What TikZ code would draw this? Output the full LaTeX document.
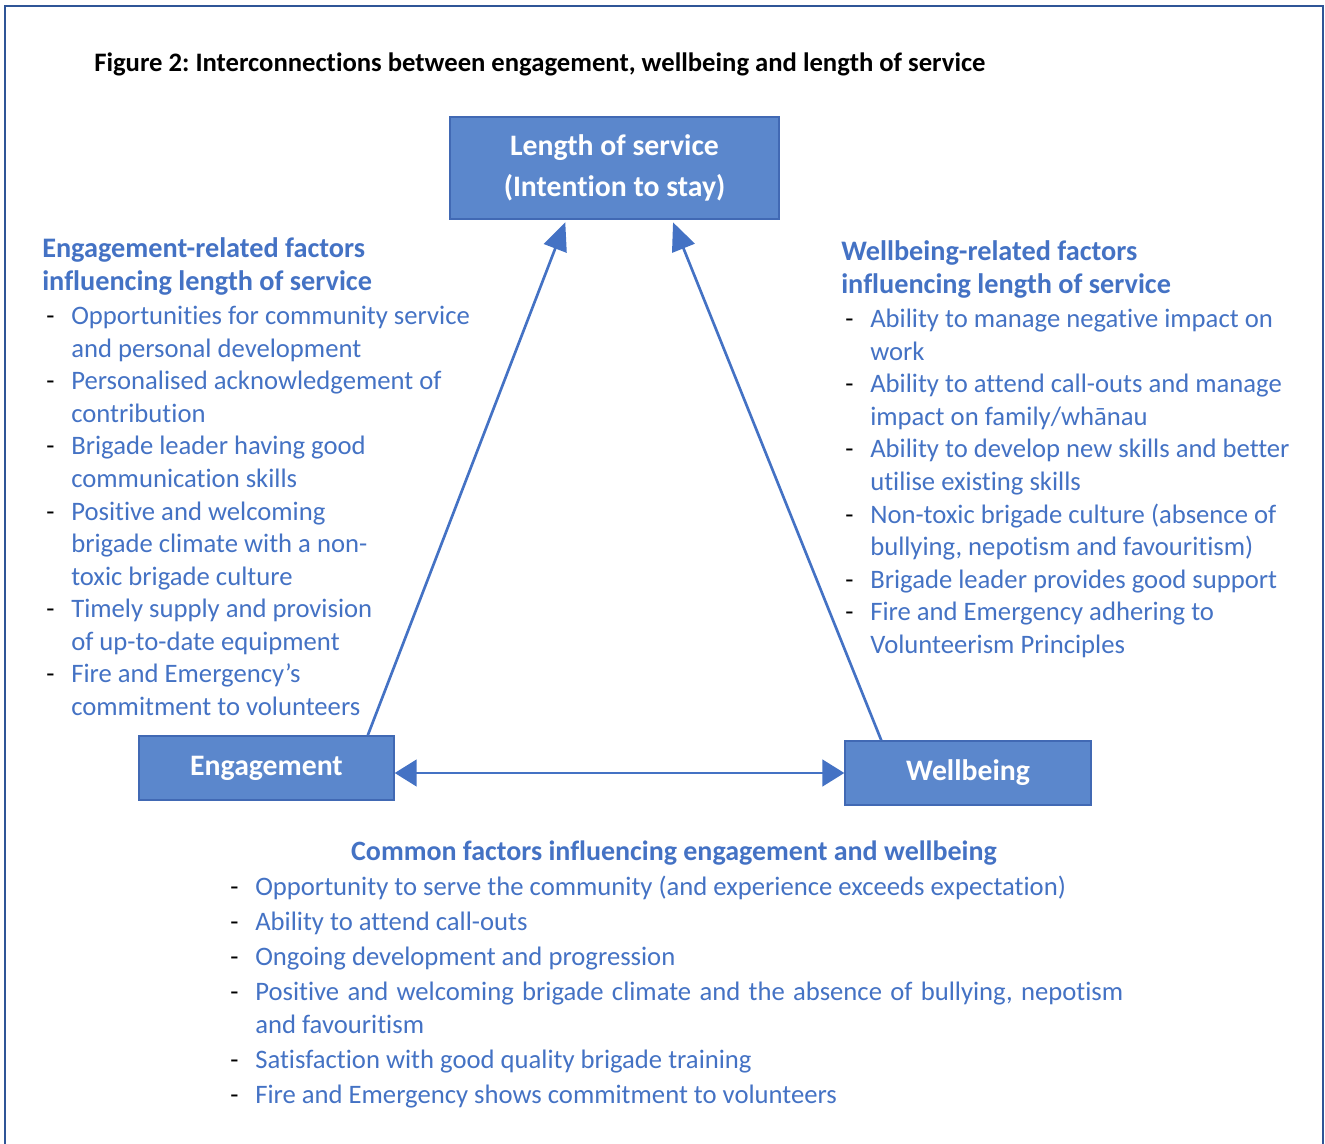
\documentclass[tikz,border=0pt]{standalone}
\usepackage{fontspec}
\setmainfont{Carlito}[Ligatures=NoCommon]
\usetikzlibrary{arrows.meta}
\definecolor{accent}{HTML}{4472C4}
\definecolor{boxfill}{HTML}{5B87CC}
\definecolor{boxline}{HTML}{4169B4}
\definecolor{framecol}{HTML}{2F5597}
% one pixel of the layout grid
\newlength{\pxu}\setlength{\pxu}{0.75pt}
% list entry: black dash, then the blue text
\newcommand{\itm}{\hspace*{4\pxu}\makebox[25\pxu][l]{\color{black}-}}
\newcommand{\cnt}{\hspace*{29\pxu}}
\newcommand{\hd}[1]{{\fontsize{21.2pt}{24.4pt}\selectfont\bfseries #1}}
\frenchspacing
\begin{document}
\begin{tikzpicture}[x=0.75pt,y=-0.75pt]
    \tikzset{box/.style={draw=boxline, fill=boxfill, line width=1pt, inner sep=0pt,
            text=white, align=center, font=\fontsize{22.3pt}{30.75pt}\selectfont\bfseries},
        factors/.style={anchor=north west, inner sep=0pt, align=left, text=accent,
            font=\fontsize{20pt}{24.4pt}\selectfont},
        link/.style={draw=accent, line width=2pt}}
    \useasboundingbox (0,0) rectangle (1325,1144);
    %Rahmen
    \draw[framecol, line width=2pt] (5,6) rectangle (1323,1170);
    \node[anchor=base west, inner sep=0pt, font=\fontsize{20pt}{22pt}\selectfont\bfseries]
        (title) at (94,72) {Figure 2: Interconnections between engagement, wellbeing and length of service};

    %Kästen
    \node[box, minimum width=246.8pt, minimum height=76.5pt] (los) at (614.5,168)
        {Length of service\\(Intention to stay)};
    \node[box, minimum width=191.3pt, minimum height=48pt] (eng) at (266.5,768) {Engagement};
    \node[box, minimum width=184.5pt, minimum height=48pt] (wb) at (968,773) {Wellbeing};

    %Pfeile
    \draw[link, -{Triangle[length=21pt,width=18pt]}] ([xshift=-20.2pt]eng.north east)
        -- ([xshift=87pt, yshift=-2pt]los.south west);
    \draw[link, -{Triangle[length=21pt,width=18pt]}] ([xshift=27.7pt]wb.north west)
        -- ([xshift=-80pt, yshift=-2pt]los.south east);
    \draw[link, {Triangle[length=16.5pt,width=20pt]}-{Triangle[length=16.5pt,width=20pt]}]
        (eng.east |- wb.west) -- (wb.west);

    %Faktoren links
    \node[factors] (engfac) at (42,237) {%
        \hd{Engagement-related factors}\\[1pt]
        \hd{influencing length of service}\\[1pt]
        \itm Opportunities for community service\\
        \cnt and personal development\\
        \itm Personalised acknowledgement of\\
        \cnt contribution\\
        \itm Brigade leader having good\\
        \cnt communication skills\\
        \itm Positive and welcoming\\
        \cnt brigade climate with a non-\\
        \cnt toxic brigade culture\\
        \itm Timely supply and provision\\
        \cnt of up-to-date equipment\\
        \itm Fire and Emergency’s\\
        \cnt commitment to volunteers};

    %Faktoren rechts
    \node[factors] (wbfac) at (841,240) {%
        \hd{Wellbeing-related factors}\\[1pt]
        \hd{influencing length of service}\\[1pt]
        \itm Ability to manage negative impact on\\
        \cnt work\\
        \itm Ability to attend call-outs and manage\\
        \cnt impact on family/whānau\\
        \itm Ability to develop new skills and better\\
        \cnt utilise existing skills\\
        \itm Non-toxic brigade culture (absence of\\
        \cnt bullying, nepotism and favouritism)\\
        \itm Brigade leader provides good support\\
        \itm Fire and Emergency adhering to\\
        \cnt Volunteerism Principles};

    %Gemeinsame Faktoren
    \node[anchor=base, inner sep=0pt, text=accent, font=\fontsize{21pt}{24pt}\selectfont\bfseries]
        (common) at (674,860) {Common factors influencing engagement and wellbeing};
    \node[factors, font=\fontsize{20pt}{26.25pt}\selectfont] (commonlist) at (226,876) {%
        \itm Opportunity to serve the community (and experience exceeds expectation)\\
        \itm Ability to attend call-outs\\
        \itm Ongoing development and progression\\
        \itm \makebox[651pt][s]{Positive and welcoming brigade climate and the absence of bullying, nepotism}\\[-1.5pt]
        \cnt and favouritism\\
        \itm Satisfaction with good quality brigade training\\
        \itm Fire and Emergency shows commitment to volunteers};
\end{tikzpicture}
\end{document}
